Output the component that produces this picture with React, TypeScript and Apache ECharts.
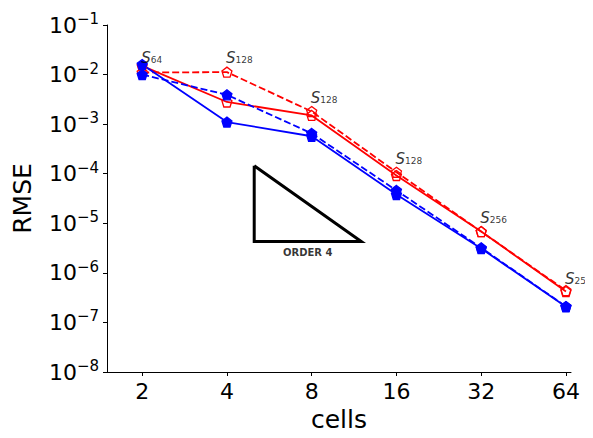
import React, { useEffect, useRef } from "react";
import * as echarts from "echarts";

const cells = [2, 4, 8, 16, 32, 64];
const blueSolid = [1.6e-2, 1.1e-3, 5.7e-4, 3.8e-5, 3.1e-6, 2.07e-7];
const blueDashed = [1.0e-2, 3.9e-3, 6.5e-4, 4.6e-5, 3.2e-6, 2.1e-7];
const redSolid = [1.5e-2, 2.8e-3, 1.5e-3, 9.2e-5, 6.8e-6, 4.2e-7];
const redDashed = [1.1e-2, 1.12e-2, 1.8e-3, 1.07e-4, 6.8e-6, 4.4e-7];
const stencilLabels = ["64", "128", "128", "128", "256", "256"];
const stencilLabelY = [2.2e-2, 2.2e-2, 3.3e-3, 2.0e-4, 1.3e-5, 7.6e-7];
const yTickExps = [-8, -7, -6, -5, -4, -3, -2, -1];
const triangleX = [5, 12];
const triangleY = [1.45e-4, 4.3e-6];
const orderLabel = "ORDER 4";

const PENTAGON =
  "path://M0,-1 L0.951,-0.309 L0.588,0.809 L-0.588,0.809 L-0.951,-0.309 Z";

export default function App() {
  const ref = useRef<HTMLDivElement>(null);
  useEffect(() => {
    const chart = echarts.init(ref.current!, null, { renderer: "svg" });
    const font = "DejaVu Sans";
    const mk = (
      name: string,
      vals: number[],
      color: string,
      dashed: boolean,
      filled: boolean
    ) => ({
      name,
      type: "line",
      data: cells.map((c, i) => [c, vals[i]]),
      symbol: PENTAGON,
      symbolSize: 10,
      showAllSymbol: true,
      clip: false,
      lineStyle: { color, width: 1.8, type: dashed ? [7, 3] : "solid" },
      itemStyle: {
        color: filled ? color : "rgba(0,0,0,0)",
        borderColor: color,
        borderWidth: 1.3,
      },
      z: 3,
    });
    chart.setOption({
      animation: false,
      grid: {
        left: 107,
        right: 22,
        top: 25,
        bottom: 66,
        containLabel: false,
        outerBoundsMode: "none",
      },
      xAxis: {
        type: "log",
        logBase: 2,
        min: 1.5,
        max: 66.7,
        name: "cells",
        nameLocation: "middle",
        nameGap: 35,
        nameMoveOverlap: false,
        nameTextStyle: { fontFamily: font, fontSize: 25, color: "#000" },
        axisLine: { lineStyle: { color: "#000", width: 1 } },
        axisTick: {
          show: true,
          length: 4,
          lineStyle: { color: "#000" },
          customValues: cells,
        },
        axisLabel: {
          fontFamily: font,
          fontSize: 22,
          color: "#000",
          margin: 8,
          customValues: cells,
          formatter: (v: number) => String(Math.round(v)),
        },
        splitLine: { show: false },
        minorTick: { show: false },
      },
      yAxis: {
        type: "log",
        logBase: 10,
        min: 1e-8,
        max: 1e-1,
        name: "RMSE",
        nameLocation: "middle",
        nameGap: 72,
        nameMoveOverlap: false,
        nameTextStyle: { fontFamily: font, fontSize: 25, color: "#000" },
        axisLine: { show: true, lineStyle: { color: "#000", width: 1 } },
        axisTick: {
          show: true,
          length: 4,
          lineStyle: { color: "#000" },
          customValues: yTickExps.map((e) => Math.pow(10, e)),
        },
        axisLabel: {
          customValues: yTickExps.map((e) => Math.pow(10, e)),
          fontFamily: font,
          fontSize: 22,
          color: "#000",
          margin: 8,
          formatter: (v: number) => {
            const e = Math.round(Math.log10(v));
            return "10{sup|" + (e < 0 ? "\u2212" + -e : String(e)) + "}";
          },
          rich: {
            sup: {
              fontFamily: font,
              fontSize: 15,
              color: "#000",
              padding: [0, 0, 12, 0],
            },
          },
        },
        splitLine: { show: false },
        minorTick: { show: false },
      },
      series: [
        mk("red dashed", redDashed, "#ff0000", true, false),
        mk("red solid", redSolid, "#ff0000", false, false),
        mk("blue dashed", blueDashed, "#0000ff", true, true),
        mk("blue solid", blueSolid, "#0000ff", false, true),
        {
          name: "stencil",
          type: "scatter",
          symbolSize: 0,
          clip: false,
          data: cells.map((c, i) => ({
            value: [c, stencilLabelY[i]],
            label: {
              show: true,
              position: "right",
              distance: -1,
              overflow: "none",
              width: 40,
              formatter: "{s|S}{sub|" + stencilLabels[i] + "}",
              rich: {
                s: {
                  fontFamily: font,
                  fontStyle: "italic",
                  fontSize: 15,
                  color: "#000",
                },
                sub: {
                  fontFamily: font,
                  fontSize: 9,
                  color: "#000",
                  padding: [4, 0, 0, 0],
                },
              },
            },
          })),
          labelLayout: { moveOverlap: false, hideOverlap: false },
          z: 5,
        },
        {
          name: "triangle",
          type: "line",
          symbol: "none",
          data: [
            [triangleX[0], triangleY[0]],
            [triangleX[0], triangleY[1]],
            [triangleX[1], triangleY[1]],
            [triangleX[0], triangleY[0]],
          ],
          lineStyle: { color: "#000", width: 3, join: "miter" },
          z: 2,
        },
        {
          name: "order",
          type: "scatter",
          symbolSize: 0,
          clip: false,
          data: [
            {
              value: [Math.sqrt(triangleX[0] * triangleX[1]), triangleY[1]],
              label: {
                show: true,
                position: "bottom",
                distance: 6,
                formatter: orderLabel,
                fontFamily: font,
                fontWeight: "bold",
                fontSize: 10,
                color: "#000",
              },
            },
          ],
        },
      ],
    });
    return () => chart.dispose();
  }, []);
  return <div ref={ref} style={{ width: 593, height: 438, margin: -8 }} />;
}
